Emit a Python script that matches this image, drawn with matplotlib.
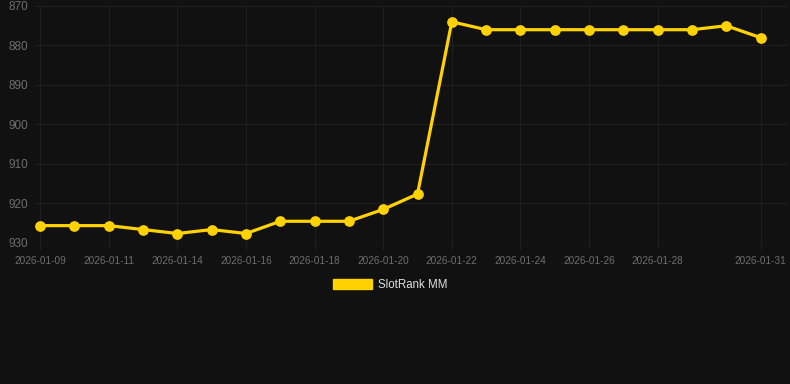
import matplotlib
matplotlib.use("Agg")
import matplotlib.pyplot as plt
from matplotlib.patches import Patch

# daily rank data (one date missing between 01-11 and 01-14)
dates = ["2026-01-09", "2026-01-10", "2026-01-11", "2026-01-12", "2026-01-14",
         "2026-01-15", "2026-01-16", "2026-01-17", "2026-01-18", "2026-01-19",
         "2026-01-20", "2026-01-21", "2026-01-22", "2026-01-23", "2026-01-24",
         "2026-01-25", "2026-01-26", "2026-01-27", "2026-01-28", "2026-01-29",
         "2026-01-30", "2026-01-31"]
ranks = [925.6, 925.6, 925.6, 926.6, 927.6, 926.6, 927.6, 924.5, 924.5, 924.5,
         921.5, 917.6, 874, 876, 876, 876, 876, 876, 876, 876, 875, 878]
label_idx = [0, 2, 4, 6, 8, 10, 12, 14, 16, 18, 21]
y_ticks = [870, 880, 890, 900, 910, 920, 930]

bg = "#111111"
grid = "#1f1f1f"
gold = "#FFD200"
tick_col = "#6e6e6e"

plt.rcParams["font.family"] = ["Liberation Sans", "DejaVu Sans"]

W, H = 790, 384
fig = plt.figure(figsize=(W / 100, H / 100), dpi=100, facecolor=bg)
# axes in pixel coords: left 35, right 788, top 6, bottom 243
ax = fig.add_axes([35 / W, 1 - 243 / H, (788 - 35) / W, (243 - 6) / H])
ax.set_facecolor(bg)

x = list(range(len(dates)))
ax.plot(x, ranks, color=gold, linewidth=2.3, marker="o", markersize=6.7,
        markerfacecolor=gold, markeredgecolor=gold, zorder=3)

ax.set_ylim(930, 870)
ax.set_xlim(-0.15, 21.8)
ax.set_yticks(y_ticks)
ax.set_xticks(label_idx)
ax.set_xticklabels([dates[i] for i in label_idx])

ax.grid(True, color=grid, linewidth=0.8)
for s in ax.spines.values():
    s.set_visible(False)
ax.axhline(930, color="#2a2a2a", linewidth=1, zorder=1)

ax.tick_params(axis="y", colors=tick_col, labelsize=8.5, length=0, pad=5)
ax.tick_params(axis="x", colors=tick_col, labelsize=7.2, length=5, width=0.8,
               pad=4, color=grid)
for t in ax.get_xticklabels():
    t.set_color(tick_col)

handle = Patch(facecolor=gold, edgecolor=gold)
leg = fig.legend([handle], ["SlotRank MM"], loc="center",
                 bbox_to_anchor=(390 / W, 1 - 285 / H), frameon=False,
                 fontsize=8.3, handlelength=3.4, handleheight=1.0,
                 handletextpad=0.5)
for t in leg.get_texts():
    t.set_color("#e0e0e0")

fig.savefig("out.png", dpi=100, facecolor=bg)
